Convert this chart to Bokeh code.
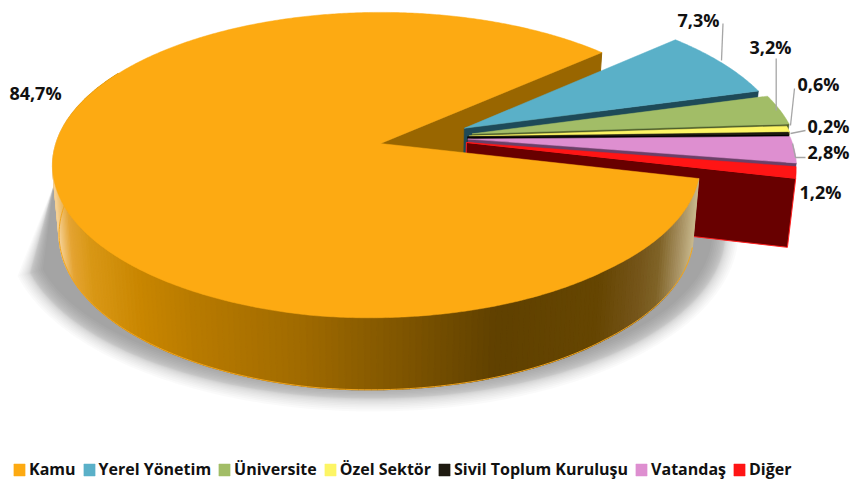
import numpy as np
from bokeh.embed import file_html
from bokeh.resources import INLINE
from bokeh.plotting import figure
from bokeh.models import Legend, LegendItem
from bokeh.core.properties import value

# ---- data ----
categories = ["Kamu", "Yerel Yönetim", "Üniversite", "Özel Sektör",
              "Sivil Toplum Kuruluşu", "Vatandaş", "Diğer"]
shares = [84.7, 7.3, 3.2, 0.6, 0.2, 2.8, 1.2]
top_colors = ["#fdaa12", "#5ab0c8", "#a2bd67", "#fdf565", "#1e1a10", "#de8fd0", "#ff1515"]
cut_colors = ["#996600", "#1e4a58", "#4f5f2a", "#7a7a30", "#000000", "#6b4068", "#680000"]
cut_edges = [None, None, None, None, None, None, "#ff2020"]

# how far each slice is pulled out of the pie
explode_u = [0.0, 0.262, 0.285, 0.275, 0.27, 0.27, 0.265]
explode_v = [0.0, 0.103, 0.065, 0.05, 0.045, 0.03, 0.007]

# data label anchors (page pixels), one for each slice
label_x = [35, 698, 770, 818, 828, 828, 820]
label_y = [92, 19, 46, 83, 125, 151, 191]
leaders_x = [[722.5, 721], [775.7, 775.7], [794, 790], [805, 790], [805, 795, 792]]
leaders_y = [[23, 60], [58, 110], [88, 125], [130, 133], [157, 157, 143]]

# wall shading, by page x
shade_x = [52, 58, 66, 80, 100, 150, 200, 300, 400, 500, 600, 640, 660, 680, 697]
shade_r = [0xf0, 0xf2, 0xf6, 0xe5, 0xd9, 0xc9, 0xb9, 0xa2, 0x82, 0x60, 0x66, 0x75, 0x80, 0xa6, 0xc8]
shade_g = [0xb0, 0xc0, 0xd2, 0xa4, 0x98, 0x86, 0x7b, 0x6c, 0x57, 0x41, 0x46, 0x55, 0x64, 0x8f, 0xb8]
shade_b = [0x40, 0x70, 0x98, 0x32, 0x16, 0x00, 0x00, 0x00, 0x00, 0x00, 0x02, 0x1a, 0x28, 0x60, 0x8c]

# ---- projection of the pie (page pixels) ----
CX, CY, A, B, K = 380.0, 143.0, 324.6, 150.0, 0.144
DEPTH, DEPTH_V, SHRINK = 68.0, 7.5, 0.02
START_DEG = -13.4     # clockwise sweep of the first slice begins here


def project(u, v, bottom=0):
    u, v = np.asarray(u, float), np.asarray(v, float)
    s = 1 + K * v
    f = 1 - SHRINK * bottom
    x = CX + f * A * u / s
    y = CY + bottom * (DEPTH - DEPTH_V * v) - f * B * v / s
    return x, y


def arc(a0, a1, ox=0.0, oy=0.0, n=None):
    n = n or max(2, int(abs(a1 - a0)) * 2 + 2)
    t = np.radians(np.linspace(a0, a1, n))
    return ox + np.cos(t), oy + np.sin(t)


def rim(deg):
    """Unit-circle rim of the big slice, slightly flattened towards the lower right."""
    d = (np.asarray(deg, float) + 180) % 360 - 180
    r = 1 - 0.025 * np.clip((d + 100) / 50, 0, 1) * (d < 0)
    t = np.radians(d)
    return r * np.cos(t), r * np.sin(t)


p = figure(width=851, height=483, x_range=(0, 851), y_range=(483, 0),
           output_backend="svg", toolbar_location=None, min_border=0,
           outline_line_color=None, background_fill_color="white")
p.axis.visible = False
p.grid.visible = False

# ---- soft shadow ----
SX, SY = 372.0, 232.0
for q in np.linspace(-1, 1, 20):
    d = 10 + 13 * np.sign(q) * abs(q) ** 1.5
    sa, sb = 343 + d, 156 + d
    t = np.linspace(np.pi - 0.245, 0.05, 120)
    xs = [53] + list(SX + sa * np.cos(t)) + [600]
    ys = [185] + list(SY + sb * np.sin(t)) + [200]
    p.patch(xs, ys, fill_color="#000000", fill_alpha=0.019, line_color=None)

# ---- slice angles: clockwise from the start angle ----
sweep = np.array(shares) / sum(shares) * 360
starts = START_DEG - np.concatenate([[0], np.cumsum(sweep)[:-1]])
ends = starts - sweep

# back cut face of the big slice
back = ends[0] % 360
bu, bv = rim(back)
x0, y0 = project(0, 0)
x1, y1 = project(bu, bv)
x2, y2 = project(bu, bv, 1)
x3, y3 = project(0, 0, 1)
p.patch([x0, x1, x2, x3], [y0, y1, y2, y3], fill_color=cut_colors[0], line_color=cut_colors[0])

# the exploded small slices, back to front
renderers = {}
for i in range(1, len(shares)):
    ou, ov = explode_u[i], explode_v[i]
    eu, ev = ou + np.cos(np.radians(ends[i])), ov + np.sin(np.radians(ends[i]))
    ax, ay = project(ou, ov)
    cx_, cy_ = project(eu, ev)
    bx, by = project(eu, ev, 1)
    dx, dy = project(ou, ov, 1)
    p.patch([ax, cx_, bx, dx], [ay, cy_, by, dy], fill_color=cut_colors[i],
            line_color=cut_edges[i] or cut_colors[i], line_width=1 if cut_edges[i] else 0.5)
    us, vs = arc(starts[i], ends[i], ou, ov)
    tx, ty = project(us, vs)
    renderers[i] = p.patch(list(np.r_[ax, tx]), list(np.r_[ay, ty]),
                           fill_color=top_colors[i], line_color=top_colors[i], line_width=0.5)

# outer wall of the big slice, shaded strip by strip
wall_a = np.linspace(150, 360 + START_DEG, 200)
wu, wv = rim(wall_a)
tx, ty = project(wu, wv)
bx, by = project(wu, wv, 1)
sx, sy, cols = [], [], []
for j in range(len(wall_a) - 1):
    sx.append([tx[j], tx[j + 1], bx[j + 1], bx[j]])
    sy.append([ty[j], ty[j + 1], by[j + 1], by[j]])
    mx = (bx[j] + bx[j + 1]) / 2
    cols.append("#%02x%02x%02x" % (int(np.interp(mx + 5, shade_x, shade_r)),
                                   int(np.interp(mx + 5, shade_x, shade_g)),
                                   int(np.interp(mx + 5, shade_x, shade_b))))
p.patches(sx, sy, fill_color=cols, line_color=cols, line_width=1.2)
p.line(bx, by, line_color="#f0a41e", line_width=1)

# top of the big slice
top_a = np.linspace(starts[0], ends[0], 620)
us, vs = rim(top_a)
tx, ty = project(us, vs)
renderers[0] = p.patch(list(np.r_[x0, tx]), list(np.r_[y0, ty]),
                       fill_color=top_colors[0], line_color=top_colors[0], line_width=0.5)

# leaders and data labels
p.multi_line(leaders_x, leaders_y, line_color="#a6a6a6", line_width=1.3)
labels = [("%.1f%%" % v).replace(".", ",") for v in shares]
p.text(label_x, label_y, text=labels, text_font=value("Open Sans"), text_font_style="bold",
       text_font_size="18px", text_color="#111111", text_align="center", text_baseline="middle")

legend = Legend(items=[LegendItem(label=c, renderers=[renderers[i]]) for i, c in enumerate(categories)],
                orientation="horizontal", location=(12, 3), glyph_width=14, glyph_height=15,
                label_standoff=3, spacing=6, padding=0, margin=0, border_line_color=None,
                background_fill_alpha=0, label_text_font="Open Sans", label_text_font_style="bold",
                label_text_font_size="16px", label_text_color="#111111")
p.add_layout(legend, "center")

open("out.html", "w").write(file_html(p, INLINE))
